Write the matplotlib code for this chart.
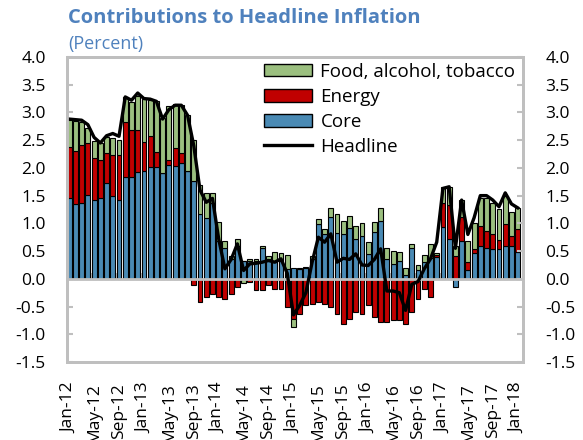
import matplotlib.pyplot as plt
import numpy as np
from matplotlib.patches import Patch
from matplotlib.lines import Line2D

plt.rcParams['font.family'] = ['Open Sans', 'DejaVu Sans']

# monthly data, Jan-12 .. Jan-18 (percentage point contributions)
core = [1.46, 1.34, 1.37, 1.52, 1.43, 1.46, 1.73, 1.50, 1.43, 1.84, 1.84, 1.93,
        1.94, 2.02, 2.02, 1.90, 2.06, 2.04, 2.08, 1.95, 1.77, 1.17, 1.10, 1.36,
        0.69, 0.55, 0.36, 0.60, 0.33, 0.33, 0.33, 0.56, 0.36, 0.30, 0.33, 0.18,
        0.19, 0.18, 0.19, 0.36, 0.98, 0.80, 1.11, 0.83, 0.80, 0.92, 0.72, 0.78,
        0.45, 0.84, 1.05, 0.36, 0.27, 0.33, 0.07, 0.56, 0.15, 0.31, 0.37, 0.39,
        0.93, 0.72, -0.15, 0.69, 0.15, 0.47, 0.59, 0.56, 0.53, 0.53, 0.60, 0.60, 0.48]
energy = [0.92, 0.96, 1.05, 0.93, 0.75, 0.69, 0.54, 0.74, 0.80, 0.98, 0.84, 0.75,
          0.53, 0.56, 0.27, 0.00, 0.08, 0.32, 0.18, 0.00, -0.12, -0.41, -0.33, -0.27,
          -0.33, -0.36, -0.27, -0.15, 0.00, -0.05, -0.21, -0.21, -0.12, -0.18, -0.18, -0.51,
          -0.72, -0.63, -0.48, -0.45, -0.42, -0.45, -0.51, -0.63, -0.81, -0.72, -0.60, -0.63,
          -0.48, -0.69, -0.78, -0.78, -0.75, -0.75, -0.81, -0.60, -0.36, -0.18, -0.32, 0.04,
          0.43, 0.61, 0.41, 0.42, 0.16, 0.06, 0.36, 0.31, 0.27, 0.17, 0.38, 0.18, 0.42]
food = [0.48, 0.54, 0.41, 0.27, 0.30, 0.30, 0.29, 0.30, 0.28, 0.45, 0.50, 0.62,
        0.78, 0.64, 0.92, 1.00, 0.98, 0.80, 0.88, 1.00, 0.73, 0.53, 0.44, 0.18,
        0.33, 0.14, 0.06, 0.11, -0.07, 0.02, 0.03, 0.03, 0.06, 0.19, 0.14, 0.25,
        -0.15, 0.02, 0.02, 0.05, 0.09, 0.09, 0.17, 0.33, 0.24, 0.22, 0.23, 0.23,
        0.21, 0.18, 0.23, 0.20, 0.24, 0.15, 0.13, 0.07, 0.09, 0.12, 0.26, 0.04,
        0.30, 0.33, 0.18, 0.31, 0.38, 0.48, 0.50, 0.58, 0.57, 0.55, 0.52, 0.42, 0.38]
headline = [2.88, 2.87, 2.86, 2.78, 2.55, 2.45, 2.58, 2.62, 2.57, 3.28, 3.22, 3.35,
            3.25, 3.24, 3.20, 2.88, 3.05, 3.13, 3.13, 2.95, 2.40, 1.60, 1.38, 1.45,
            0.72, 0.18, 0.35, 0.63, 0.15, 0.27, 0.28, 0.30, 0.33, 0.30, 0.36, 0.10,
            -0.65, -0.48, -0.25, 0.30, 0.75, 0.66, 0.81, 0.30, 0.37, 0.35, 0.45, 0.25,
            0.24, 0.35, 0.54, -0.22, -0.22, -0.25, -0.57, -0.10, -0.05, 0.18, 0.36, 0.66,
            1.63, 1.66, 0.55, 1.42, 0.80, 1.10, 1.50, 1.50, 1.42, 1.30, 1.55, 1.35, 1.28]

months = ["Jan", "Feb", "Mar", "Apr", "May", "Jun", "Jul", "Aug", "Sep", "Oct", "Nov", "Dec"]
labels = [months[i % 12] + "-" + str(12 + i // 12) for i in range(len(core))]

core = np.array(core)
energy = np.array(energy)
food = np.array(food)
x = np.arange(len(core))

# excel-style stacking: positives stack up, negatives stack down
pos = np.zeros(len(x))
neg = np.zeros(len(x))
def stack(vals):
    global pos, neg
    b = np.where(vals >= 0, pos, neg)
    pos = pos + np.where(vals >= 0, vals, 0)
    neg = neg + np.where(vals < 0, vals, 0)
    return b

blue = "#4a8ab4"
red = "#c00000"
green = "#9bbf7f"
grey = "#bfbfbf"
txtblue = "#4f81bd"
fs = 12.5

fig = plt.figure(figsize=(5.83, 4.40), dpi=100)
ax = fig.add_axes([0.1144, 0.1773, 0.7832, 0.6932])

w = 0.78
ax.bar(x, core, w, bottom=stack(core), color=blue, edgecolor="black", linewidth=0.8, zorder=2)
ax.bar(x, energy, w, bottom=stack(energy), color=red, edgecolor="black", linewidth=0.8, zorder=2)
ax.bar(x, food, w, bottom=stack(food), color=green, edgecolor="black", linewidth=0.8, zorder=2)
ax.plot(x, headline, color="black", lw=2.4, zorder=4, solid_joinstyle="round")

ax.axhline(0, color=grey, lw=2, zorder=3)

ax.set_xlim(-0.4, 72.9)
ax.set_ylim(-1.5, 4.0)
yt = np.arange(-1.5, 4.01, 0.5)
ax.set_yticks(yt)
ax.set_yticklabels(["%.1f" % v for v in yt], fontsize=fs)
ax.tick_params(axis="y", direction="in", length=4, color=grey, width=1.5, pad=15)

ax.set_xticks(x[::4])
ax.set_xticklabels(labels[::4], rotation=90, fontsize=fs)
ax.tick_params(axis="x", length=0, pad=15)

for s in ax.spines.values():
    s.set_color(grey)
    s.set_linewidth(2)

ax2 = ax.twinx()
ax2.set_ylim(-1.5, 4.0)
ax2.set_yticks(yt)
ax2.set_yticklabels(["%.1f" % v for v in yt], fontsize=fs)
ax2.tick_params(axis="y", direction="in", length=4, color=grey, width=1.5, pad=16)
for s in ax2.spines.values():
    s.set_color(grey)
    s.set_linewidth(2)

# tick marks on the zero line, between categories
sec = ax.secondary_xaxis(1.5 / 5.5)
sec.set_xticks(x[::4][1:] - 0.5)
sec.set_xticklabels([])
sec.tick_params(length=4, direction="in", color=grey, width=1.5)
sec.spines["bottom"].set_visible(False)

handles = [Patch(facecolor=green, edgecolor="black", label="Food, alcohol, tobacco"),
           Patch(facecolor=red, edgecolor="black", label="Energy"),
           Patch(facecolor=blue, edgecolor="black", label="Core"),
           Line2D([0], [0], color="black", lw=2.4, label="Headline")]
ax.legend(handles=handles, loc="upper right", bbox_to_anchor=(0.995, 1.0), frameon=False,
          fontsize=13.5, handlelength=2.56, handleheight=0.68, labelspacing=0.38,
          handletextpad=0.43, borderaxespad=0.1, borderpad=0.2)

fig.text(0.117, 0.958, "Contributions to Headline Inflation", fontsize=14.5,
         fontweight="bold", color=txtblue, va="center")
fig.text(0.117, 0.9, "(Percent)", fontsize=13, color=txtblue, va="center")

fig.savefig("out.png", dpi=100)
